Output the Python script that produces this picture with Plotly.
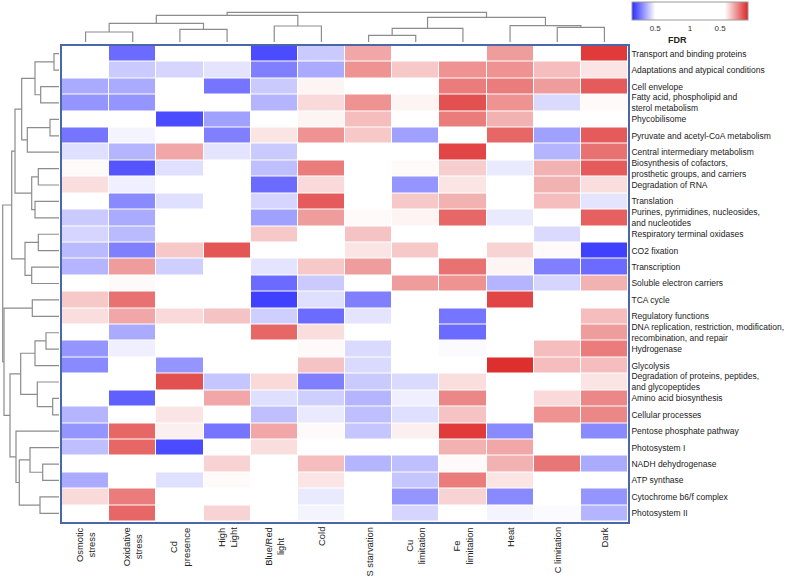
import plotly.graph_objects as go

# ---------------- data ----------------
conditions = ["Osmotic<br>stress", "Oxidative<br>stress", "Cd<br>presence", "High<br>Light",
              "Blue/Red<br>light", "Cold", "S starvation", "Cu<br>limitation",
              "Fe<br>limitation", "Heat", "C limitation", "Dark"]

categories = [
    "Transport and binding proteins",
    "Adaptations and atypical conditions",
    "Cell envelope",
    "Fatty acid, phospholipid and<br>sterol metabolism",
    "Phycobilisome",
    "Pyruvate and acetyl-CoA metabolism",
    "Central intermediary metabolism",
    "Biosynthesis of cofactors,<br>prosthetic groups, and carriers",
    "Degradation of RNA",
    "Translation",
    "Purines, pyrimidines, nucleosides,<br>and nucleotides",
    "Respiratory terminal oxidases",
    "CO2 fixation",
    "Transcription",
    "Soluble electron carriers",
    "TCA cycle",
    "Regulatory functions",
    "DNA replication, restriction, modification,<br>recombination, and repair",
    "Hydrogenase",
    "Glycolysis",
    "Degradation of proteins, peptides,<br>and glycopeptides",
    "Amino acid biosynthesis",
    "Cellular processes",
    "Pentose phosphate pathway",
    "Photosystem I",
    "NADH dehydrogenase",
    "ATP synthase",
    "Cytochrome b6/f complex",
    "Photosystem II",
]

# signed score on the colour-bar scale (negative = blue, positive = red)
values = [
    [0, -0.88, 0, 0, -0.94, -0.70, 0.76, 0, 0, 0.78, 0, 0.96],
    [0, -0.70, -0.68, -0.65, -0.84, -0.76, 0.80, 0.70, 0.80, 0.80, 0.72, 0.65],
    [-0.76, -0.76, 0, -0.86, -0.70, 0.62, 0, 0, 0.84, 0.84, 0.78, 0.90],
    [-0.80, -0.80, 0, 0, -0.74, 0.67, 0.80, 0.62, 0.92, 0.80, -0.67, 0.61],
    [0, 0, -0.94, -0.78, 0, 0.62, 0.72, 0, 0.84, 0.74, 0, 0],
    [-0.86, -0.62, 0, -0.84, 0.65, 0.80, 0.70, -0.78, 0, 0.88, -0.78, 0.90],
    [-0.66, -0.74, 0.76, -0.65, -0.70, 0, 0, 0, 0.94, 0, -0.74, 0.86],
    [0.61, -0.92, -0.66, 0, -0.72, 0.84, 0, 0.61, 0.69, -0.64, 0.74, 0.90],
    [0.66, -0.63, 0, 0, -0.88, 0.67, 0, -0.80, 0.65, 0, 0.74, 0.66],
    [0, -0.82, -0.66, 0, -0.68, 0.90, 0, 0.70, 0.74, 0, 0.72, -0.65],
    [-0.70, -0.76, 0, 0, -0.78, 0.78, 0.61, 0.62, 0.88, -0.64, 0, 0.89],
    [-0.68, -0.73, 0, 0, 0.70, 0, 0.71, 0, 0, 0, -0.67, 0],
    [-0.73, -0.84, 0.70, 0.91, 0, 0, 0.65, 0.70, 0, 0.68, 0.61, -0.96],
    [-0.74, 0.78, -0.69, 0, -0.65, 0.70, 0.78, 0, 0.86, 0.62, -0.84, -0.88],
    [0, 0.61, 0, 0, -0.88, -0.70, 0, 0.78, 0.80, -0.74, -0.68, 0.74],
    [0.70, 0.86, 0, 0, -0.96, -0.66, -0.84, 0, 0, 0.94, 0, 0],
    [0.66, 0.76, 0.67, 0.71, -0.69, -0.88, -0.65, 0, -0.86, 0, 0, 0.72],
    [0, -0.76, 0, 0, 0.88, 0.66, 0, 0, -0.88, 0, 0, 0.78],
    [-0.80, -0.63, 0, 0, 0, 0.61, -0.67, 0, -0.61, 0, 0.72, 0.84],
    [-0.82, 0, -0.80, 0, 0, 0.71, -0.67, 0, 0, 0.98, 0.72, 0.72],
    [0, 0, 0.92, -0.71, 0.67, -0.84, -0.70, -0.67, 0.66, 0, 0, 0.65],
    [0, -0.90, 0, 0.76, -0.66, -0.69, -0.74, -0.63, 0.82, 0, 0.67, 0.82],
    [-0.74, 0, 0.65, 0, -0.72, -0.64, -0.72, -0.66, 0.71, 0, 0.80, 0.82],
    [-0.80, 0.88, 0.63, -0.86, 0.76, 0.61, -0.71, 0.63, 0.96, -0.82, 0, -0.82],
    [-0.72, 0.88, -0.94, 0, 0.66, 0, 0, 0, 0.74, 0.76, 0, 0],
    [0, 0, 0, 0.68, 0, 0.72, -0.74, -0.72, 0.61, 0.74, 0.85, -0.76],
    [-0.76, 0, -0.66, 0.61, 0, 0.65, 0, -0.71, 0.84, 0.65, 0, 0],
    [0.67, 0.84, 0, 0, 0, -0.64, 0, -0.80, 0.68, -0.82, 0, -0.80],
    [0, 0.88, 0, 0.68, 0, -0.62, 0, -0.68, 0, -0.62, -0.61, -0.74],
]

# colour bar ticks
cbar_tickvals = [-0.6, 0, 0.52]
cbar_ticktext = ["0.5", "1", "0.5"]

# dendrogram merges: (child_a, child_b, height); leaves are 0..n-1, merge k gets id n+k
col_merges = [
    (0, 1, 10), (2, 3, 12.7), (12, 13, 18.7), (4, 5, 16), (14, 15, 26.7),
    (6, 7, 6.7), (17, 8, 13.7), (10, 11, 14.7), (9, 19, 16.3), (18, 20, 24.7),
    (16, 21, 29.7),
]
row_merges = [
    (0, 1, 5), (2, 3, 18.3), (29, 30, 24), (4, 5, 9), (32, 6, 31.7),
    (31, 33, 37.3), (7, 8, 20.7), (9, 10, 24), (35, 36, 27.3), (34, 37, 44),
    (11, 12, 20.7), (13, 14, 27.3), (39, 40, 34), (38, 41, 47.3), (15, 16, 26.7),
    (17, 18, 13), (44, 19, 24), (21, 22, 6.3), (20, 46, 21.7), (45, 47, 38.3),
    (25, 26, 16.3), (24, 49, 29), (27, 28, 19), (50, 51, 39.7), (23, 52, 43),
    (48, 53, 49), (43, 54, 55), (42, 55, 56.3),
]


def dendro_paths(merges, n):
    pos = {i: (float(i), 0.0) for i in range(n)}
    c, h = [], []
    for k, (a, b, hh) in enumerate(merges):
        ca, ha = pos[a]
        cb, hb = pos[b]
        c += [ca, ca, cb, cb, None]
        h += [ha, hh, hh, hb, None]
        pos[n + k] = ((ca + cb) / 2, hh)
    return c, h


W, H = 787, 578
FONT = "Liberation Sans, Arial, sans-serif"
DCOL = "#8c8c8c"

fig = go.Figure()

fig.add_trace(go.Heatmap(
    z=values, x=list(range(len(conditions))), y=list(range(len(categories))),
    zmin=-1, zmax=1,
    colorscale=[[0, "#2b2bff"], [0.2, "#ffffff"], [0.8, "#ffffff"], [1, "#dc2424"]],
    xgap=1, ygap=1,
    colorbar=dict(
        orientation="h", x=690 / W, xanchor="center", y=1 - 2 / H, yanchor="top",
        len=116, lenmode="pixels", thickness=18, thicknessmode="pixels",
        xpad=0, ypad=0, outlinewidth=1, outlinecolor="#9a9a9a",
        tickvals=cbar_tickvals, ticktext=cbar_ticktext, ticks="",
        tickfont=dict(size=8, color="#333", family=FONT),
    ),
    hoverinfo="skip",
))

cx, ch = dendro_paths(col_merges, len(conditions))
fig.add_trace(go.Scatter(x=cx, y=ch, mode="lines", line=dict(color=DCOL, width=1.2),
                         xaxis="x", yaxis="y2", hoverinfo="skip", showlegend=False))

ry, rh = dendro_paths(row_merges, len(categories))
fig.add_trace(go.Scatter(x=rh, y=ry, mode="lines", line=dict(color=DCOL, width=1.2),
                         xaxis="x3", yaxis="y", hoverinfo="skip", showlegend=False))

frame = "#4a68a8"
fig.update_layout(
    width=W, height=H, autosize=False,
    margin=dict(l=0, r=0, t=0, b=0, pad=0, autoexpand=False),
    paper_bgcolor="white", plot_bgcolor="white",
    showlegend=False,
    font=dict(family=FONT, color="#222"),
    xaxis=dict(domain=[62 / W, 628 / W], range=[-0.5, len(conditions) - 0.5],
               showticklabels=False, ticks="", showgrid=False, zeroline=False,
               showline=True, mirror=True, linecolor=frame, linewidth=1.5, anchor="y",
               automargin=False),
    yaxis=dict(domain=[1 - 521.5 / H, 1 - 45.5 / H], range=[len(categories) - 0.5, -0.5],
               tickvals=list(range(len(categories))), ticktext=categories, side="right",
               ticks="", showgrid=False, zeroline=False, showline=True, mirror=True,
               linecolor=frame, linewidth=1.5, anchor="x", automargin=False,
               tickfont=dict(size=8.5, color="#222", family=FONT)),
    yaxis2=dict(domain=[1 - 42 / H, 1 - 10 / H], range=[0, 32], visible=False, anchor="x"),
    xaxis3=dict(domain=[0, 59 / W], range=[59, 0], visible=False, anchor="y"),
)

for i, lab in enumerate(conditions):
    fig.add_annotation(x=i, xref="x", y=1 - 525 / H, yref="paper", yanchor="top",
                       xanchor="center", text=lab, textangle=-90, align="center",
                       showarrow=False, font=dict(size=9.4, color="#222", family=FONT))

fig.add_annotation(x=689 / W, y=1 - 33 / H, xref="paper", yref="paper", text="<b>FDR</b>",
                   showarrow=False, font=dict(size=9, color="#222", family=FONT))

fig.write_html("out.html", config={"displayModeBar": False},
               post_script="document.body.style.margin='0';document.body.style.padding='0';")
